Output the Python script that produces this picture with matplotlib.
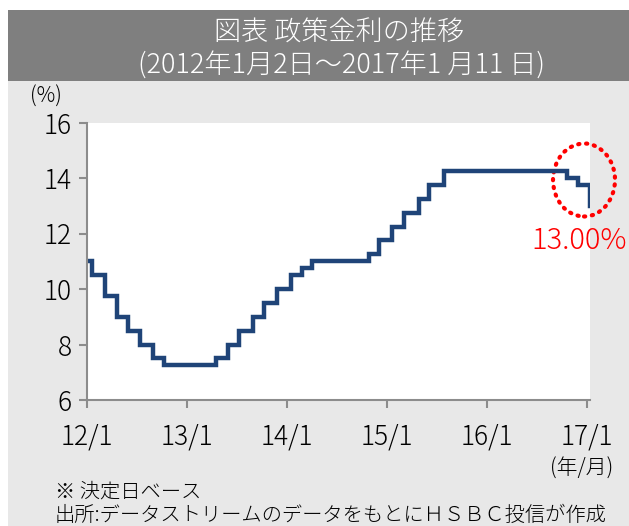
import numpy as np
import matplotlib
matplotlib.use("Agg")
import matplotlib.pyplot as plt
import matplotlib.dates as mdates
from matplotlib.patches import Rectangle, Ellipse
import datetime as dt

plt.rcParams['font.family'] = ['Noto Sans CJK JP', 'DejaVu Sans']

# 政策金利（決定日ベース）
dates = ["2012-01-01", "2012-01-18", "2012-03-07", "2012-04-18", "2012-05-30",
         "2012-07-11", "2012-08-29", "2012-10-10", "2013-04-17", "2013-05-29",
         "2013-07-10", "2013-08-28", "2013-10-09", "2013-11-27", "2014-01-15",
         "2014-02-26", "2014-04-02", "2014-10-29", "2014-12-03", "2015-01-21",
         "2015-03-04", "2015-04-29", "2015-06-03", "2015-07-29", "2016-10-19",
         "2016-11-30", "2017-01-11"]
rates = [11.00, 10.50, 9.75, 9.00, 8.50,
         8.00, 7.50, 7.25, 7.50, 8.00,
         8.50, 9.00, 9.50, 10.00, 10.50,
         10.75, 11.00, 11.25, 11.75, 12.25,
         12.75, 13.25, 13.75, 14.25, 14.00,
         13.75, 13.00]
tick_years = [2012, 2013, 2014, 2015, 2016, 2017]
tick_labels = ["12/1", "13/1", "14/1", "15/1", "16/1", "17/1"]
yticks = [6, 8, 10, 12, 14, 16]

W, H = 629, 526
fig = plt.figure(figsize=(W / 100, H / 100), dpi=100)
fig.patch.set_facecolor("white")

# 背景
fig.patches.append(Rectangle((8 / W, 0), 1 - 8 / W, 1 - 80 / H, transform=fig.transFigure,
                             facecolor="#e8e8e8", edgecolor="none", zorder=-2))
fig.patches.append(Rectangle((8 / W, 1 - 81 / H), 1 - 8 / W, 71 / H, transform=fig.transFigure,
                             facecolor="#7f7f7f", edgecolor="none", zorder=-1))

fig.text(339 / W, 1 - 33 / H, "図表 政策金利の推移", color="white", fontsize=19.5,
         ha="center", va="center", fontweight="light")
fig.text(342 / W, 1 - 65 / H, "(2012年1月2日～2017年1 月11 日)", color="white", fontsize=19.5,
         ha="center", va="center", fontweight="light")

ax = fig.add_axes([87 / W, 1 - 400 / H, 503 / W, 277.5 / H])
ax.set_facecolor("white")

x = [mdates.datestr2num(d) for d in dates]
y = list(rates)
# 最終日の利下げを垂直線で表示
x = x[:-1] + [x[-1], x[-1]]
y = y[:-1] + [rates[-2], rates[-1]]
ax.plot(x, y, drawstyle="steps-post", color="#1f4478", lw=3.2, solid_joinstyle="miter")

ax.set_xlim(mdates.date2num(dt.date(2012, 1, 1)), mdates.date2num(dt.date(2017, 1, 12)))
ax.set_ylim(6, 16)
ax.set_xticks([mdates.date2num(dt.date(yy, 1, 1)) for yy in tick_years])
ax.set_xticklabels(tick_labels)
ax.set_yticks(yticks)

for s in ["top", "right"]:
    ax.spines[s].set_visible(False)
for s in ["left", "bottom"]:
    ax.spines[s].set_color("#8c8c8c")
    ax.spines[s].set_linewidth(1.5)
ax.tick_params(axis="both", colors="#8c8c8c", width=1.5, length=6, labelsize=19,
               labelcolor="black")
ax.tick_params(axis="x", pad=10)
ax.tick_params(axis="y", pad=5)
for lab in ax.get_xticklabels() + ax.get_yticklabels():
    lab.set_fontweight("light")

# 直近の利下げを強調
ax.add_patch(Ellipse((584 / W, 1 - 180 / H), 62 / W, 73 / H, transform=fig.transFigure,
                     fill=False, edgecolor="red", lw=3, linestyle=(0, (0.3, 1.6)),
                     capstyle="round", clip_on=False))

fig.text(579 / W, 1 - 241 / H, "13.00%", color="red", fontsize=21, ha="center", va="center",
         fontweight="light")

fig.text(46 / W, 1 - 97 / H, "(%)", fontsize=15, ha="center", va="center", fontweight="light")
fig.text(582 / W, 1 - 469 / H, "(年/月)", fontsize=15, ha="center", va="center", fontweight="light")
fig.text(55 / W, 1 - 492 / H, "※ 決定日ベース", fontsize=14.6, ha="left", va="center",
         fontweight="light")
fig.text(55 / W, 1 - 515 / H, "出所:データストリームのデータをもとにＨＳＢＣ投信が作成", fontsize=14.6,
         ha="left", va="center", fontweight="light")

fig.savefig("out.png", dpi=100)
